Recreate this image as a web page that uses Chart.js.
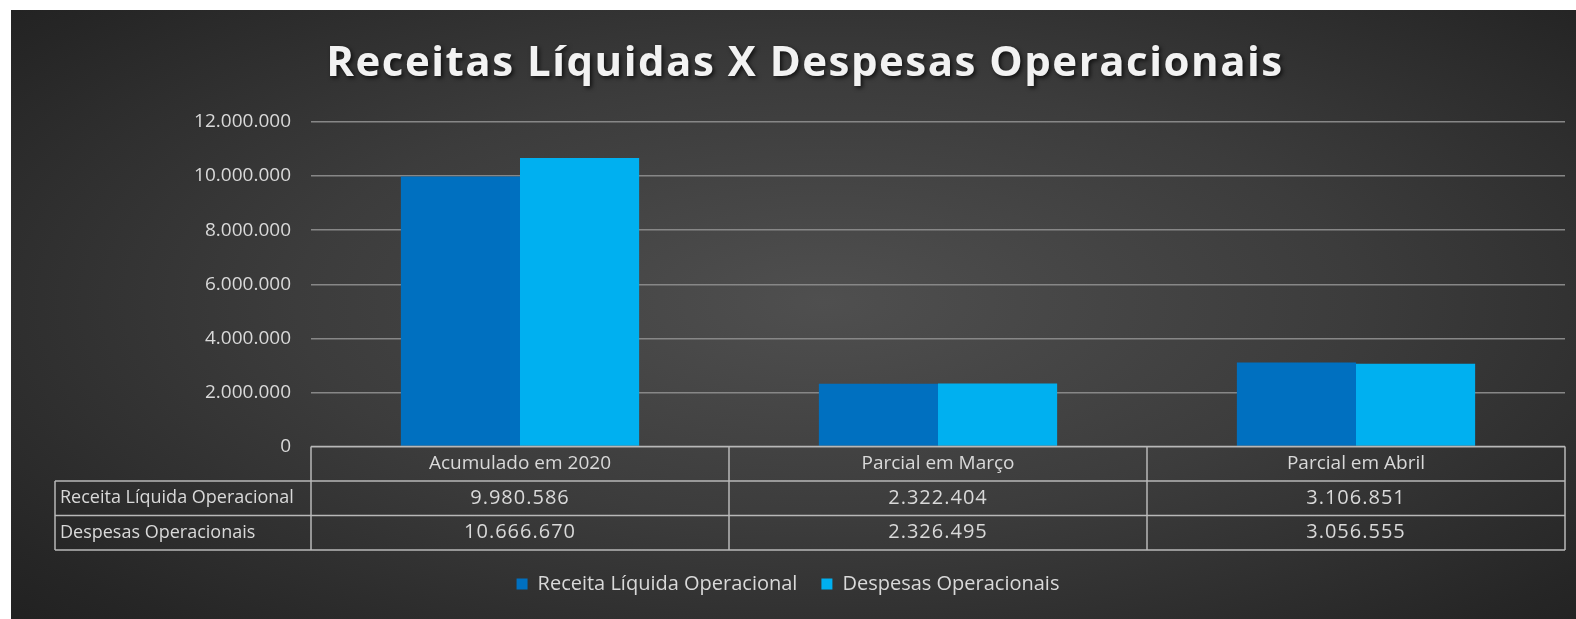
<!DOCTYPE html>
<html>
<head>
<meta charset="utf-8">
<script src="https://cdn.jsdelivr.net/npm/chart.js@4.4.0/dist/chart.umd.min.js"></script>
<style>
  html, body { margin: 0; padding: 0; background: #fff; }
  #wrap {
    position: absolute; left: 11px; top: 10px; width: 1565px; height: 609px;
    background: radial-gradient(ellipse 75% 80% at 52% 48%, #4f4f4f 0%, #3c3c3c 45%, #262626 85%, #1f1f1f 100%);
  }
  canvas { display: block; }
</style>
</head>
<body>
<div id="wrap"><canvas id="chart" width="1565" height="609"></canvas></div>
<script>
// ===== data =====
const titleText = 'Receitas Líquidas X Despesas Operacionais';
const categories = ['Acumulado em 2020', 'Parcial em Março', 'Parcial em Abril'];
const receitaLiquida = [9980586, 2322404, 3106851];
const despesasOperacionais = [10666670, 2326495, 3056555];
const seriesNames = ['Receita Líquida Operacional', 'Despesas Operacionais'];
const yTicks = [0, 2000000, 4000000, 6000000, 8000000, 10000000, 12000000];

const FONT = "'Open Sans', sans-serif";
const TEXT = '#d9d9d9';
const LINE = '#b8b8b8';
const ROW_H = 34.5;
const LABEL_COL_X = 44;

function fmt(n) {
  return String(n).replace(/\B(?=(\d{3})+(?!\d))/g, '.');
}

// title with spacing + soft shadow (Chart.js title can't do either)
const titlePlugin = {
  id: 'shadowTitle',
  afterDraw(chart) {
    const { ctx } = chart;
    ctx.save();
    ctx.font = 'bold 42px ' + FONT;
    ctx.letterSpacing = '1.5px';
    ctx.textAlign = 'center';
    ctx.textBaseline = 'alphabetic';
    ctx.shadowColor = 'rgba(0,0,0,0.7)';
    ctx.shadowBlur = 4;
    ctx.shadowOffsetX = 2;
    ctx.shadowOffsetY = 2;
    ctx.fillStyle = '#f2f2f2';
    ctx.fillText(titleText, 794, 66);
    ctx.restore();
  }
};

// data table under the plot, columns taken from the x scale
const dataTable = {
  id: 'dataTable',
  afterDraw(chart) {
    const { ctx, chartArea, scales } = chart;
    const x = scales.x;
    const half = (x.getPixelForValue(1) - x.getPixelForValue(0)) / 2;
    const top = chartArea.bottom;
    const right = chartArea.right;
    const rows = [receitaLiquida, despesasOperacionais];

    ctx.save();
    ctx.strokeStyle = LINE;
    ctx.lineWidth = 1.5;
    ctx.beginPath();
    // header top (axis line)
    ctx.moveTo(chartArea.left, top);
    ctx.lineTo(right, top);
    // row lines
    for (let r = 1; r <= 3; r++) {
      ctx.moveTo(LABEL_COL_X, top + ROW_H * r);
      ctx.lineTo(right, top + ROW_H * r);
    }
    // verticals
    ctx.moveTo(LABEL_COL_X, top + ROW_H);
    ctx.lineTo(LABEL_COL_X, top + ROW_H * 3);
    categories.forEach((c, i) => {
      const cx = x.getPixelForValue(i);
      ctx.moveTo(cx - half, top);
      ctx.lineTo(cx - half, top + ROW_H * 3);
    });
    ctx.moveTo(right, top);
    ctx.lineTo(right, top + ROW_H * 3);
    ctx.stroke();

    ctx.fillStyle = TEXT;
    ctx.textBaseline = 'middle';
    rows.forEach((vals, r) => {
      const cy = top + ROW_H * (r + 1) + ROW_H / 2;
      ctx.font = '18px ' + FONT;
      ctx.letterSpacing = '0px';
      ctx.textAlign = 'left';
      ctx.fillText(seriesNames[r], LABEL_COL_X + 5, cy);
      ctx.font = '20px ' + FONT;
      ctx.letterSpacing = '1px';
      ctx.textAlign = 'center';
      vals.forEach((v, i) => ctx.fillText(fmt(v), x.getPixelForValue(i), cy));
    });
    ctx.restore();
  }
};

new Chart(document.getElementById('chart'), {
  type: 'bar',
  data: {
    labels: categories,
    datasets: [
      {
        label: seriesNames[0],
        data: receitaLiquida,
        backgroundColor: '#0070c0',
        categoryPercentage: 0.57,
        barPercentage: 1.0,
      },
      {
        label: seriesNames[1],
        data: despesasOperacionais,
        backgroundColor: '#00b0f0',
        categoryPercentage: 0.57,
        barPercentage: 1.0,
      },
    ],
  },
  options: {
    responsive: false,
    animation: false,
    layout: { padding: { top: 112, right: 11, bottom: 15 } },
    plugins: {
      title: { display: false },
      legend: {
        position: 'bottom',
        labels: {
          color: TEXT,
          font: { family: FONT, size: 20 },
          boxWidth: 11,
          boxHeight: 11,
          padding: 24,
        },
      },
      tooltip: { enabled: false },
    },
    scales: {
      x: {
        grid: { display: false, drawTicks: false },
        border: { display: false },
        ticks: {
          color: TEXT,
          font: { family: FONT, size: 19 },
          padding: 6,
          maxRotation: 0,
          autoSkip: false,
        },
        afterFit(scale) { scale.height = ROW_H * 3; },
      },
      y: {
        min: 0,
        max: 12000000,
        afterBuildTicks(scale) { scale.ticks = yTicks.map(v => ({ value: v })); },
        grid: { color: '#878787', lineWidth: 1.5, drawTicks: false },
        border: { display: false },
        ticks: {
          color: TEXT,
          font: { family: FONT, size: 19 },
          padding: 20,
          callback: v => fmt(v),
        },
        afterFit(scale) { scale.width = 300; },
      },
    },
  },
  plugins: [dataTable, titlePlugin],
});
</script>
</body>
</html>
